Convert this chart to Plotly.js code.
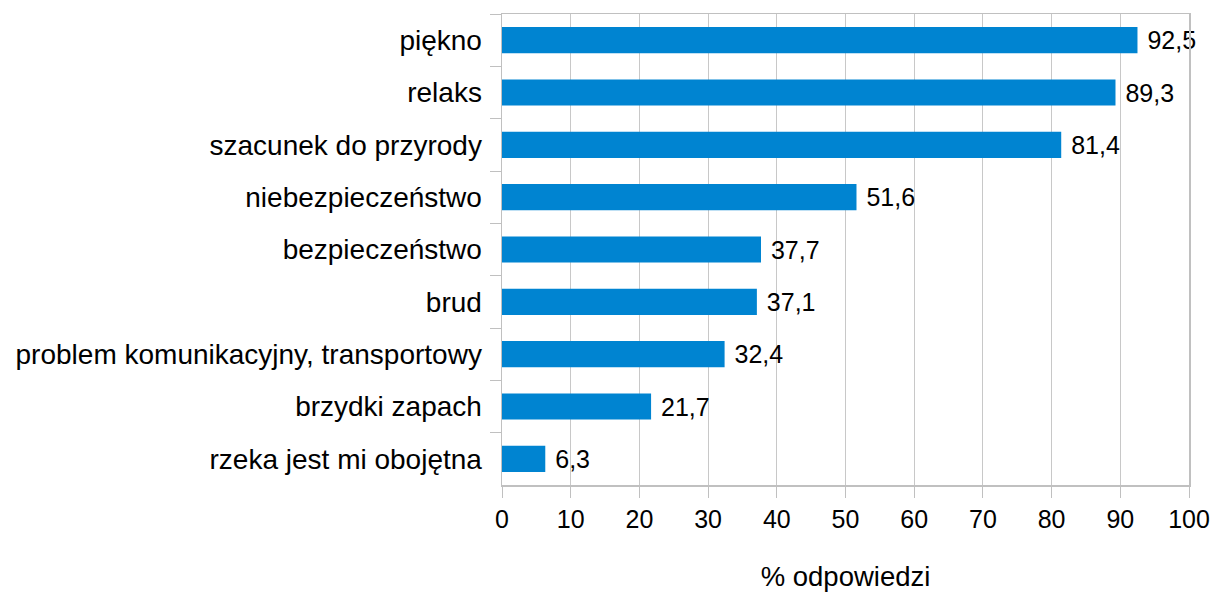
<!DOCTYPE html>
<html>
<head>
<meta charset="utf-8">
<script src="https://cdn.plot.ly/plotly-3.0.1.min.js"></script>
<style>html,body{margin:0;padding:0;background:#fff;}#chart{width:1212px;height:592px;}</style>
</head>
<body>
<div id="chart"></div>
<script>
const categories = ["piękno","relaks","szacunek do przyrody","niebezpieczeństwo","bezpieczeństwo","brud","problem komunikacyjny, transportowy","brzydki zapach","rzeka jest mi obojętna"];
const values = [92.5, 89.3, 81.4, 51.6, 37.7, 37.1, 32.4, 21.7, 6.3];
const xTickVals = [0,10,20,30,40,50,60,70,80,90,100];
const xTitle = "% odpowiedzi";

const font = "Liberation Sans, Arial, sans-serif";
const trace = {
  type: "bar",
  orientation: "h",
  x: values,
  y: categories,
  marker: {color: "#0084d1"},
  texttemplate: " %{x:.1f}",
  textposition: "outside",
  textfont: {family: font, size: 25, color: "#000"},
  constraintext: "none",
  cliponaxis: false,
  hoverinfo: "none"
};
const layout = {
  width: 1212, height: 592,
  margin: {l: 502, r: 23, t: 14, b: 107, pad: 0},
  paper_bgcolor: "#fff", plot_bgcolor: "#fff",
  separators: ", ",
  bargap: 0.5,
  showlegend: false,
  font: {family: font, color: "#000"},
  xaxis: {
    range: [0, 100], tickvals: xTickVals, ticks: "outside", ticklen: 11, tickcolor: "#c0c0c0",
    showgrid: true, gridcolor: "#c8c8c8", gridwidth: 1, zeroline: false,
    showline: true, linecolor: "#c0c0c0", linewidth: 1.5, mirror: true,
    tickfont: {family: font, size: 25, color: "#000"},
    title: {text: xTitle, font: {family: font, size: 27.5, color: "#000"}, standoff: 36}
  },
  yaxis: {
    type: "category", autorange: "reversed", tickson: "boundaries",
    ticks: "outside", ticklen: 11, tickcolor: "#c0c0c0", showgrid: false,
    showline: true, linecolor: "#c0c0c0", linewidth: 1.5, mirror: true,
    tickfont: {family: font, size: 28, color: "#000"}, ticklabelstandoff: 13
  }
};
Plotly.newPlot("chart", [trace], layout, {staticPlot: true, displayModeBar: false});
</script>
</body>
</html>
